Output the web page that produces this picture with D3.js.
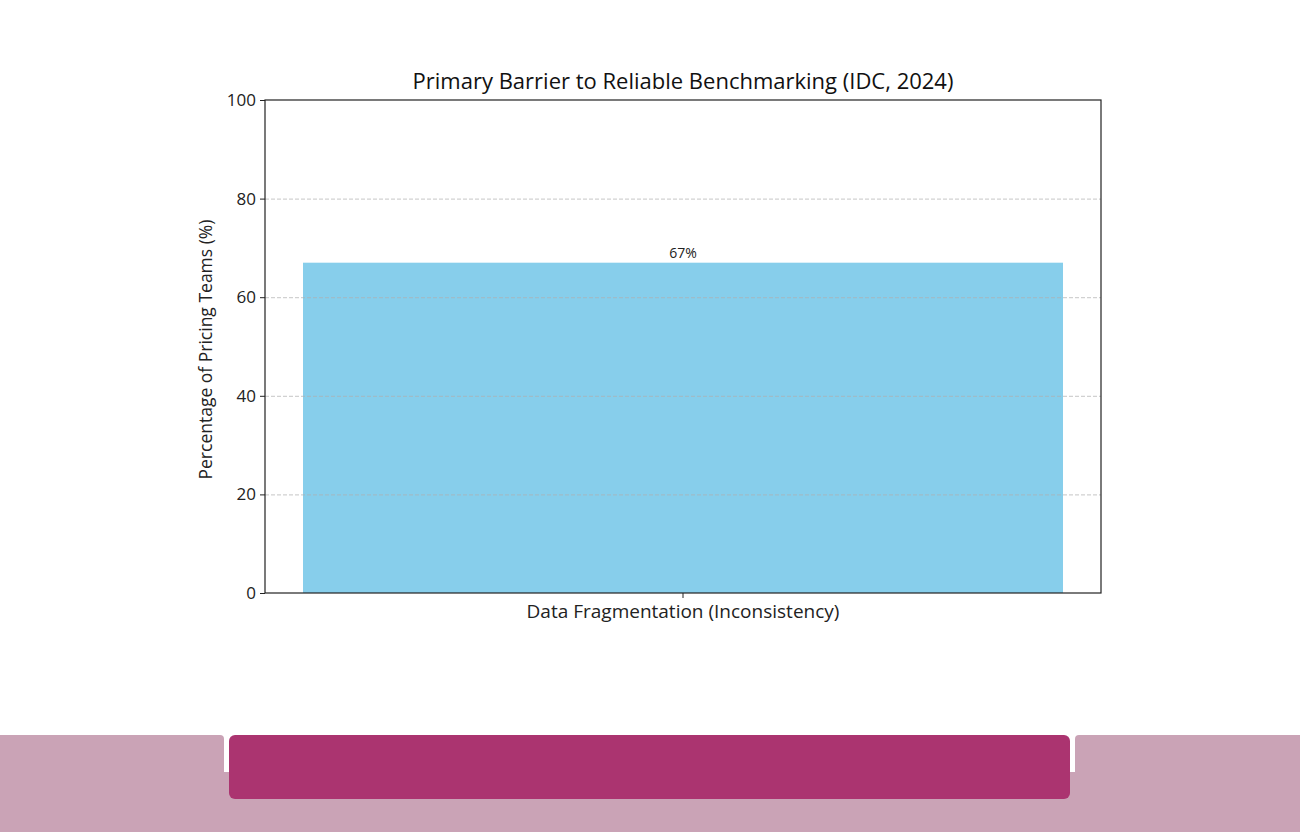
<!DOCTYPE html>
<html>
<head>
<meta charset="utf-8">
<script src="https://cdn.jsdelivr.net/npm/d3@7"></script>
<style>
  body { margin: 0; background: #fff; }
  svg { display: block; font-family: "Open Sans", Roboto, sans-serif; }
</style>
</head>
<body>
<div id="chart"></div>
<script>
// --- data ---
const categories = ["Data Fragmentation (Inconsistency)"];
const values = [67];
const yTicks = [0, 20, 40, 60, 80, 100];
const gridTicks = [20, 40, 60, 80];

const W = 1300, H = 832;
const margin = {top: 100, right: 199, bottom: 239, left: 265};
const width = W - margin.left - margin.right;
const height = H - margin.top - margin.bottom;

const svg = d3.select("#chart").append("svg")
    .attr("width", W).attr("height", H);

// --- onderste decoratie ---
const deco = svg.append("g");
deco.append("rect").attr("x", 0).attr("y", 772).attr("width", W).attr("height", 60).attr("fill", "#caa3b6");
deco.append("rect").attr("x", -10).attr("y", 735).attr("width", 234).attr("height", 97).attr("rx", 4).attr("fill", "#caa3b6");
deco.append("rect").attr("x", 1075).attr("y", 735).attr("width", 235).attr("height", 97).attr("rx", 4).attr("fill", "#caa3b6");
deco.append("rect").attr("x", 229).attr("y", 735).attr("width", 841).attr("height", 64).attr("rx", 6).attr("fill", "#ab3470");

const g = svg.append("g").attr("transform", `translate(${margin.left},${margin.top})`);

const x = d3.scaleBand().domain(categories).range([0, width]).paddingInner(0).paddingOuter(0.05);
const y = d3.scaleLinear().domain([0, 100]).range([height, 0]);

// balken
g.selectAll(".bar").data(values).enter().append("rect")
    .attr("x", (d, i) => x(categories[i]))
    .attr("y", d => y(d))
    .attr("width", x.bandwidth())
    .attr("height", d => height - y(d))
    .attr("fill", "#87ceeb");

// grid
g.append("g")
    .call(d3.axisLeft(y).tickValues(gridTicks).tickSize(-width).tickFormat(""))
    .call(s => s.select(".domain").remove())
    .selectAll("line")
    .attr("stroke", "#b0b0b0").attr("stroke-opacity", 0.9).attr("stroke-dasharray", "4,2").attr("stroke-width", 0.8);

// waarde labels
g.selectAll(".val").data(values).enter().append("text")
    .attr("x", (d, i) => x(categories[i]) + x.bandwidth() / 2)
    .attr("y", d => y(d) - 5)
    .attr("text-anchor", "middle")
    .attr("font-size", 14).attr("fill", "#222")
    .text(d => d + "%");

// frame
g.append("rect").attr("width", width).attr("height", height)
    .attr("fill", "none").attr("stroke", "#222").attr("stroke-width", 1.2);

// assen
const yAxis = g.append("g").call(d3.axisLeft(y).tickValues(yTicks).tickSize(5).tickPadding(4));
yAxis.select(".domain").remove();
yAxis.selectAll("text").attr("font-size", 17).attr("fill", "#222").attr("font-family", "'Open Sans', sans-serif");
yAxis.selectAll("line").attr("stroke", "#222");

const xAxis = g.append("g").attr("transform", `translate(0,${height})`)
    .call(d3.axisBottom(x).tickSize(5).tickPadding(7));
xAxis.select(".domain").remove();
xAxis.selectAll("text").attr("font-size", 19).attr("fill", "#222").attr("font-family", "'Open Sans', sans-serif");
xAxis.selectAll("line").attr("stroke", "#222");

// titels
svg.append("text").attr("x", margin.left + width / 2).attr("y", 89)
    .attr("text-anchor", "middle").attr("font-size", 22).attr("fill", "#111")
    .text("Primary Barrier to Reliable Benchmarking (IDC, 2024)");

svg.append("text")
    .attr("transform", `translate(212,${margin.top + height / 2 + 3}) rotate(-90)`)
    .attr("text-anchor", "middle").attr("font-size", 17.5).attr("fill", "#222")
    .text("Percentage of Pricing Teams (%)");
</script>
</body>
</html>
